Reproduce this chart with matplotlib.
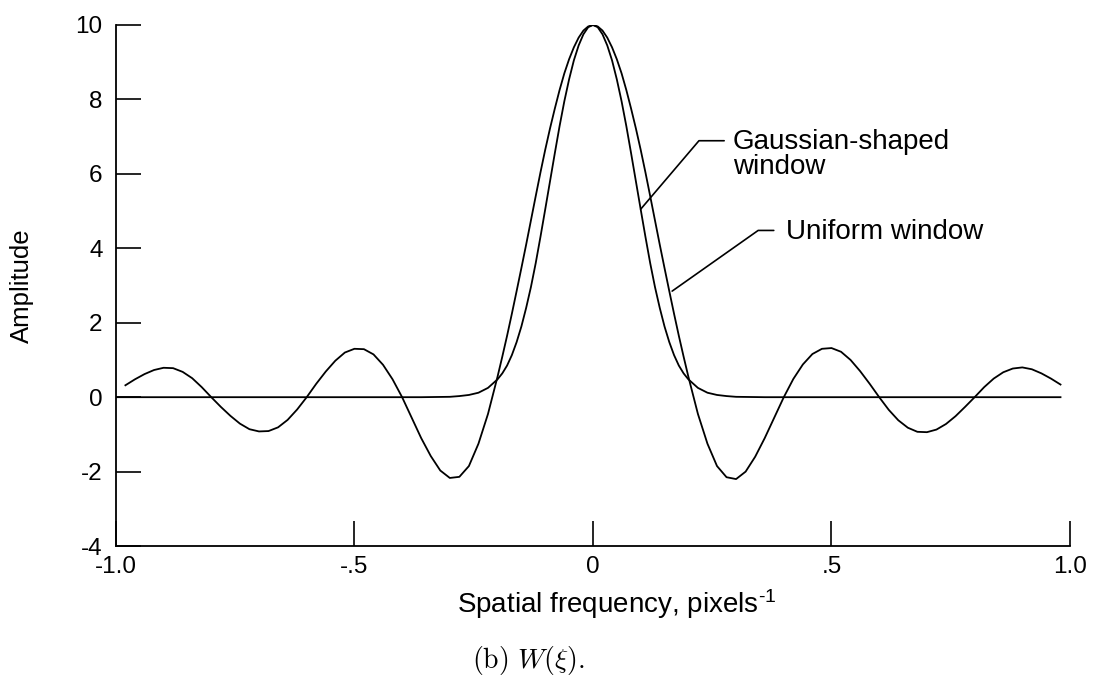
import numpy as np
import matplotlib
matplotlib.use("Agg")
import matplotlib.pyplot as plt

plt.rcParams['font.family'] = ['Liberation Sans', 'DejaVu Sans']
plt.rcParams['mathtext.fontset'] = 'custom'
plt.rcParams['mathtext.rm'] = 'Liberation Sans'
plt.rcParams['mathtext.it'] = 'Liberation Sans:italic'
plt.rcParams['axes.unicode_minus'] = False

# uniform window: side lobes every 0.02, main lobe every 0.01
uniform_x = np.concatenate([np.linspace(-0.98, -0.20, 40),
                            np.linspace(-0.19, 0.19, 39),
                            np.linspace(0.20, 0.98, 40)])
uniform_y = [0.32, 0.48, 0.62, 0.73, 0.79, 0.78, 0.68, 0.51, 0.27, 0.00,
             -0.26, -0.50, -0.71, -0.86, -0.92, -0.91, -0.81, -0.61, -0.33, 0.00,
             0.36, 0.69, 0.98, 1.20, 1.30, 1.29, 1.15, 0.87, 0.48, 0.00,
             -0.55, -1.10, -1.58, -1.97, -2.17, -2.14, -1.85, -1.25, -0.45, 0.55,
             # main lobe -0.19 .. 0.19
             1.09, 1.65, 2.24, 2.85, 3.47, 4.10, 4.75, 5.40, 6.04, 6.65,
             7.22, 7.75, 8.25, 8.70, 9.08, 9.40, 9.66, 9.85, 9.96, 10.0,
             9.96, 9.85, 9.66, 9.40, 9.08, 8.70, 8.25, 7.75, 7.22, 6.65,
             6.04, 5.40, 4.75, 4.10, 3.47, 2.85, 2.24, 1.65, 1.09,
             # 0.20 .. 0.98
             0.55, -0.45, -1.25, -1.85, -2.15, -2.20, -2.00, -1.60, -1.10, -0.55,
             0.00, 0.49, 0.88, 1.16, 1.30, 1.32, 1.22, 1.00, 0.70, 0.36,
             0.00, -0.34, -0.62, -0.82, -0.93, -0.94, -0.87, -0.72, -0.51, -0.26,
             0.00, 0.27, 0.50, 0.67, 0.77, 0.80, 0.75, 0.64, 0.50, 0.34]

# gaussian-shaped window
gauss_x = np.concatenate([[-1.0, -0.8, -0.6, -0.45, -0.36, -0.30, -0.28, -0.26, -0.24, -0.22],
                          np.linspace(-0.20, 0.20, 41),
                          [0.22, 0.24, 0.26, 0.28, 0.30, 0.36, 0.45, 0.6, 0.8, 0.98]])
gauss_y = [0.0, 0.0, 0.0, 0.0, 0.0, 0.01, 0.03, 0.06, 0.12, 0.25,
           # -0.20 .. 0.20
           0.48, 0.64, 0.85, 1.13, 1.48, 1.90, 2.40, 2.96, 3.60, 4.31,
           5.05, 5.80, 6.55, 7.28, 7.95, 8.54, 9.05, 9.45, 9.75, 9.94,
           10.0,
           9.94, 9.75, 9.45, 9.05, 8.54, 7.95, 7.28, 6.55, 5.80, 5.05,
           4.31, 3.60, 2.96, 2.40, 1.90, 1.48, 1.13, 0.85, 0.64, 0.48,
           0.25, 0.12, 0.06, 0.03, 0.01, 0.0, 0.0, 0.0, 0.0, 0.0]

xticks = [-1.0, -0.5, 0.0, 0.5, 1.0]
xtick_labels = ['-1.0', '-.5', '0', '.5', '1.0']
yticks = [-4, -2, 0, 2, 4, 6, 8, 10]

fig = plt.figure(figsize=(10.93, 6.75), dpi=100)
ax = fig.add_axes([0.106, 0.191, 0.873, 0.772])

ax.plot(uniform_x, uniform_y, color='black', lw=1.3)
ax.plot(gauss_x, gauss_y, color='black', lw=1.3)

ax.set_xlim(-1.0, 1.0)
ax.set_ylim(-4, 10)
ax.set_xticks(xticks)
ax.set_xticklabels(xtick_labels)
ax.set_yticks(yticks)
ax.tick_params(axis='both', direction='in', length=18, width=1.2, labelsize=17.5, colors='black')
ax.tick_params(axis='y', pad=9.5)
ax.tick_params(axis='x', pad=7.5)
for s in ['top', 'right']:
    ax.spines[s].set_visible(False)
for s in ['left', 'bottom']:
    ax.spines[s].set_linewidth(1.3)

ax.set_xlabel(r'Spatial frequency, pixels$^{\text{-1}}$', fontsize=20)
ax.xaxis.set_label_coords(0.525, -0.078)
ax.set_ylabel('Amplitude', fontsize=18.5, va='center')
ax.yaxis.set_label_coords(-0.0985, 0.5)

# leader lines and labels
g_i = int(np.argmin(np.abs(gauss_x - 0.10)))
ax.annotate('', xy=(gauss_x[g_i], gauss_y[g_i]), xytext=(0.275, 6.89),
            arrowprops=dict(arrowstyle='-', color='black', lw=1.2, shrinkA=0, shrinkB=0,
                            connectionstyle='angle,angleA=0,angleB=49.6'))
ax.text(0.293, 7.2, 'Gaussian-shaped\nwindow', fontsize=20, ha='left', va='top',
        linespacing=0.95)

u_i = int(np.argmin(np.abs(uniform_x - 0.16)))
ax.annotate('', xy=(uniform_x[u_i] + 0.006, uniform_y[u_i]), xytext=(0.379, 4.48),
            arrowprops=dict(arrowstyle='-', color='black', lw=1.2, shrinkA=0, shrinkB=0,
                            connectionstyle='angle,angleA=0,angleB=35.2'))
ax.text(0.405, 4.45, 'Uniform window', fontsize=20, ha='left', va='center')

fig.text(0.483, 0.022, r'$\mathrm{(b)}\ W(\xi).$', fontsize=20, ha='center', va='center',
         math_fontfamily='cm')

fig.savefig('out.png', dpi=100)
